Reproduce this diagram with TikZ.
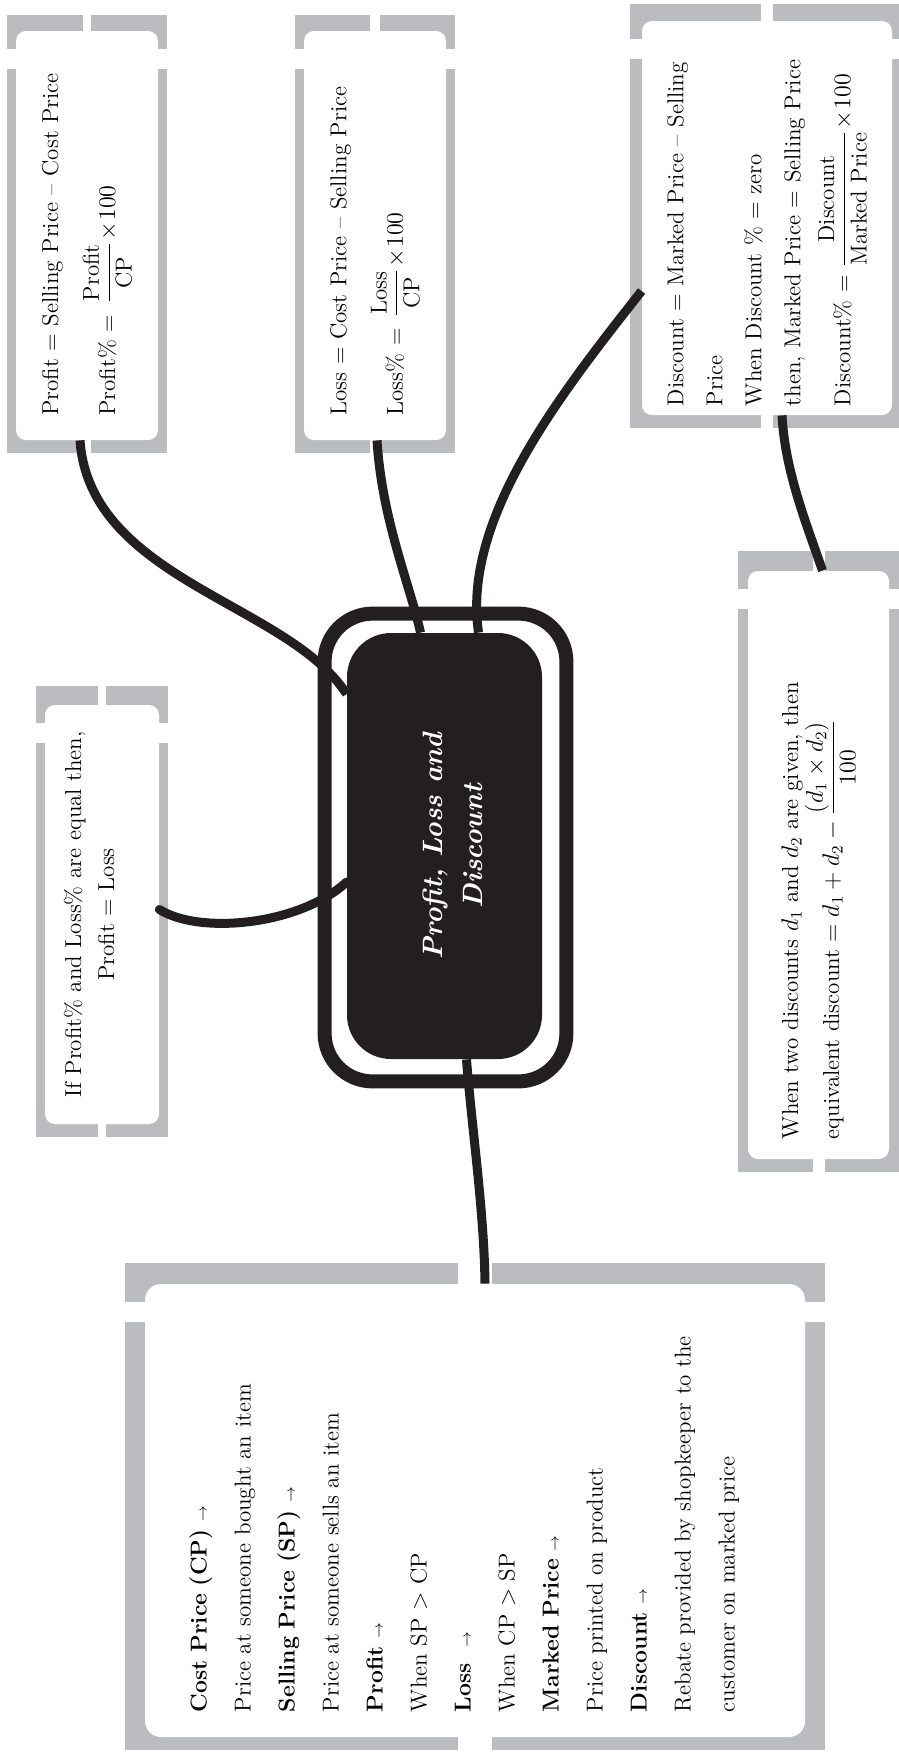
\documentclass[tikz,border=0pt]{standalone}
\usepackage{amsmath,amssymb}
\usepackage{tikz}
\usetikzlibrary{calc, backgrounds}
\definecolor{hubblack}{RGB}{35,31,32}
\definecolor{shadowgray}{RGB}{187,188,192}
\newcommand{\defarrow}{{\scriptsize$\rightarrow$}}
\tikzset{
  card/.style={
    rectangle, rounded corners=5pt, fill=white, rotate=90,
    inner sep=0pt, align=left,
    font=\fontsize{11.5}{16.5}\selectfont
  },
  hubnode/.style={
    rectangle, rounded corners=22pt, fill=hubblack, rotate=90,
    inner sep=0pt, text=white, align=center,
    font=\fontsize{14}{20}\selectfont\bfseries\itshape
  },
  branch/.style={draw=hubblack, line width=4.5pt},
  frame/.style={draw=hubblack, line width=7pt, rounded corners=24pt}
}

\begin{document}
\begin{tikzpicture}[x=0.5pt, y=-0.5pt]
  \useasboundingbox (0,0) rectangle (899,1752);

  \node[hubnode, minimum width=213pt, minimum height=97.5pt] (hub) at (444.5,846)
        {\mbox{}\\[-2pt]Profit, Loss and\\Discount};

  \node[card, minimum width=204.5pt, minimum height=71pt, text width=180pt] (p1) at (87,235.5)
        {Profit = Selling Price – Cost Price\\[9pt]
         Profit\% =\enspace$\dfrac{\text{Profit}}{\text{CP}}\!\times\!100$};
  \node[card, minimum width=204.5pt, minimum height=71pt, text width=180pt] (p2) at (375,235.5)
        {Loss = Cost Price – Selling Price\\[9pt]
         Loss\% =\enspace$\dfrac{\text{Loss}}{\text{CP}}\!\times\!100$};
  \node[card, minimum width=197pt, minimum height=125pt, text width=188pt,
        font=\fontsize{11.5}{19.5}\selectfont] (p3) at (767,218)
        {Discount = Marked Price – Selling\\ Price\\ When Discount \% = zero\\
         then, Marked Price = Selling Price\\[5.5pt]
         Discount\% = $\dfrac{\text{Discount}}{\text{Marked Price}}\!\times\!100$};
  \node[card, align=center, minimum width=209.5pt, minimum height=57pt, text width=200pt] (p4) at (102,914.5)
        {If Profit\% and Loss\% are equal then,\\ Profit = Loss\\[-3.5pt]\mbox{}};
  \node[card, minimum width=294pt, minimum height=70.5pt, text width=274pt] (p5) at (818.5,865)
        {When two discounts $d_1$ and $d_2$ are given, then\\
         equivalent discount $= d_1 + d_2 - \dfrac{(d_1\times d_2)}{100}$};
  \node[card, rounded corners=8pt, minimum width=226.5pt, minimum height=330pt, text width=201.5pt,
        font=\fontsize{11.5}{22}\selectfont] (p6) at (475,1510.5)
        {\textbf{Cost Price (CP)} \defarrow\\
         Price at someone bought an item\\
         \textbf{Selling Price (SP)} \defarrow\\
         Price at someone sells an item\\
         \textbf{Profit} \defarrow\\
         When SP $>$ CP\\
         \textbf{Loss} \ \defarrow\\
         When CP $>$ SP\\
         \textbf{Marked Price} \defarrow\\
         Price printed on product\\
         \textbf{Discount} \defarrow\\
         Rebate provided by shopkeeper to the\\
         customer on marked price\\[-9pt]\mbox{}};

  % shadows behind the cards
  \begin{scope}[on background layer]
    \fill[white] (0,0) rectangle (899,1752);
    \foreach \b/\m/\t/\g in {p1/9/16/4, p2/9/16/5, p3/12/17/6, p4/9/19/4, p5/10/20/6, p6/20/21/17}{
      \fill[shadowgray] ($(\b.north east)+(-\m,-\t)$) rectangle ($(\b.south west)+(\m,13)$);
      \fill[white] ($(\b.east)+(-\g,-\t)$) rectangle ($(\b.west)+(\g,13)$);
      \fill[white] ($(\b.north east)+(-\m,18)$) rectangle ($(\b.south east)+(\m,38)$);
    }
  \end{scope}

  % frame round the hub
  \draw[frame] ($(hub.north east)+(-22,-19)$) rectangle ($(hub.south west)+(24,22)$);
  \draw[hubblack, line width=1.2pt] ($(hub.north east)+(-21,14)$) -- ($(hub.north west)+(-21,-60)$);
  \draw[hubblack, line width=1.2pt] ($(hub.south east)+(22,18)$) -- ($(hub.south west)+(22,-12)$);

  % branches
  \draw[branch] ($(p1.west)+(-7,0)$) .. controls (90,580) and (288,603) .. ($(hub.north)+(0,-152)$);
  \draw[branch] ($(p2.west)+(2,0)$) .. controls (382,520) and (410,585) .. ($(hub.east)+(-24,0)$);
  \draw[branch] ($(p3.north)+(0,73)$) .. controls (558,397) and (462,520) .. ($(hub.east)+(34,0)$);
  \draw[branch] ($(p3.west)+(15,0)$) .. controls (785,470) and (805,520) .. ($(p5.east)+(4,0)$);
  \draw[branch, line cap=round] ($(p4.south)+(0,-5)$) .. controls (200,935) and (300,925) .. ($(hub.north)+(0,36)$);
  \draw[branch] ($(hub.west)+(22,0)$) .. controls (472,1130) and (484,1210) .. ($(p6.east)+(10,0)$);
\end{tikzpicture}
\end{document}
